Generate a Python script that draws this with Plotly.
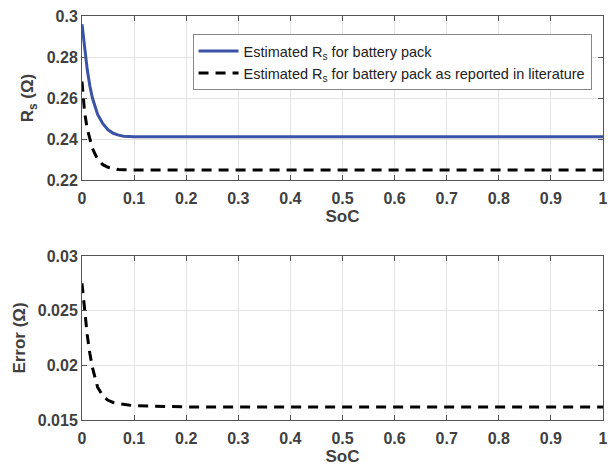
import plotly.graph_objects as go
from plotly.subplots import make_subplots

# State of charge sample points
soc = [0, 0.005, 0.01, 0.015, 0.02, 0.03, 0.04, 0.05, 0.06, 0.07, 0.08, 0.1,
       0.2, 0.3, 0.4, 0.5, 0.6, 0.7, 0.8, 0.9, 1.0]

# Series resistance of the pack (ohm)
rs_estimated = [0.296, 0.284, 0.274, 0.266, 0.260, 0.252, 0.2475, 0.2445, 0.2428,
                0.2419, 0.2414, 0.2411, 0.2411, 0.2411, 0.2411, 0.2411, 0.2411,
                0.2411, 0.2411, 0.2411, 0.2411]
rs_literature = [0.268, 0.253, 0.245, 0.2395, 0.2355, 0.2300, 0.2275, 0.2262, 0.2255,
                 0.2251, 0.2250, 0.2249, 0.2249, 0.2249, 0.2249, 0.2249, 0.2249,
                 0.2249, 0.2249, 0.2249, 0.2249]

# Error between the two estimates (ohm)
rs_error = [0.0275, 0.0250, 0.0228, 0.0211, 0.0198, 0.0180, 0.0172, 0.0168, 0.0166,
            0.0165, 0.01643, 0.0163, 0.0162, 0.0162, 0.0162, 0.0162, 0.0162,
            0.0162, 0.0162, 0.0162, 0.0162]

x_ticks = [0, 0.1, 0.2, 0.3, 0.4, 0.5, 0.6, 0.7, 0.8, 0.9, 1]
x_labels = ["0", "0.1", "0.2", "0.3", "0.4", "0.5", "0.6", "0.7", "0.8", "0.9", "1"]
top_ticks = [0.22, 0.24, 0.26, 0.28, 0.3]
top_labels = ["0.22", "0.24", "0.26", "0.28", "0.3"]
bot_ticks = [0.015, 0.02, 0.025, 0.03]
bot_labels = ["0.015", "0.02", "0.025", "0.03"]

BLUE = "#3a53a6"
INK = "#404040"
FONT = "Liberation Sans, Arial, sans-serif"

fig = make_subplots(rows=2, cols=1, vertical_spacing=0.188)

fig.add_trace(go.Scatter(
    x=soc, y=rs_estimated, mode="lines", line=dict(color=BLUE, width=3),
    name="Estimated R<sub>s</sub> for battery pack"), row=1, col=1)
fig.add_trace(go.Scatter(
    x=soc, y=rs_literature, mode="lines",
    line=dict(color="#000000", width=3, dash="10px,7px"),
    name="Estimated R<sub>s</sub> for battery pack as reported in literature"),
    row=1, col=1)
fig.add_trace(go.Scatter(
    x=soc, y=rs_error, mode="lines",
    line=dict(color="#000000", width=3, dash="10px,7px"),
    showlegend=False), row=2, col=1)

axis_common = dict(
    showline=True, linecolor="#555555", linewidth=1, mirror="ticks",
    ticks="inside", ticklen=5, tickcolor="#555555",
    showgrid=True, gridcolor="#e3e3e3", gridwidth=1, zeroline=False,
    tickfont=dict(family=FONT, size=16, color=INK), automargin=False,
)

for r in (1, 2):
    fig.update_xaxes(range=[0, 1], tickvals=x_ticks,
                     ticktext=["<b>%s</b>" % t for t in x_labels],
                     ticklabelstandoff=4,
                     title=dict(text="<b>SoC</b>", font=dict(family=FONT, size=17, color=INK),
                                standoff=2),
                     row=r, col=1, **axis_common)

fig.update_yaxes(range=[0.22, 0.3], tickvals=top_ticks,
                 ticktext=["<b>%s</b>" % t for t in top_labels],
                 title=dict(text="<b>R<sub>s</sub> (Ω)</b>", font=dict(family=FONT, size=17, color=INK),
                            standoff=8),
                 row=1, col=1, **axis_common)
fig.update_yaxes(range=[0.015, 0.03], tickvals=bot_ticks,
                 ticktext=["<b>%s</b>" % t for t in bot_labels],
                 title=dict(text="<b>Error (Ω)</b>", font=dict(family=FONT, size=17, color=INK),
                            standoff=7),
                 row=2, col=1, **axis_common)

fig.update_layout(
    width=613, height=468,
    margin=dict(l=82, r=10, t=16, b=48),
    paper_bgcolor="white", plot_bgcolor="white",
    font=dict(family=FONT, color=INK),
    legend=dict(x=0.978, y=0.955, xanchor="right", yanchor="top",
                bgcolor="white", bordercolor="#888888", borderwidth=1,
                font=dict(family=FONT, size=14.5, color="#222222"),
                itemwidth=40, tracegroupgap=0),
)

fig.write_html("out.html")
